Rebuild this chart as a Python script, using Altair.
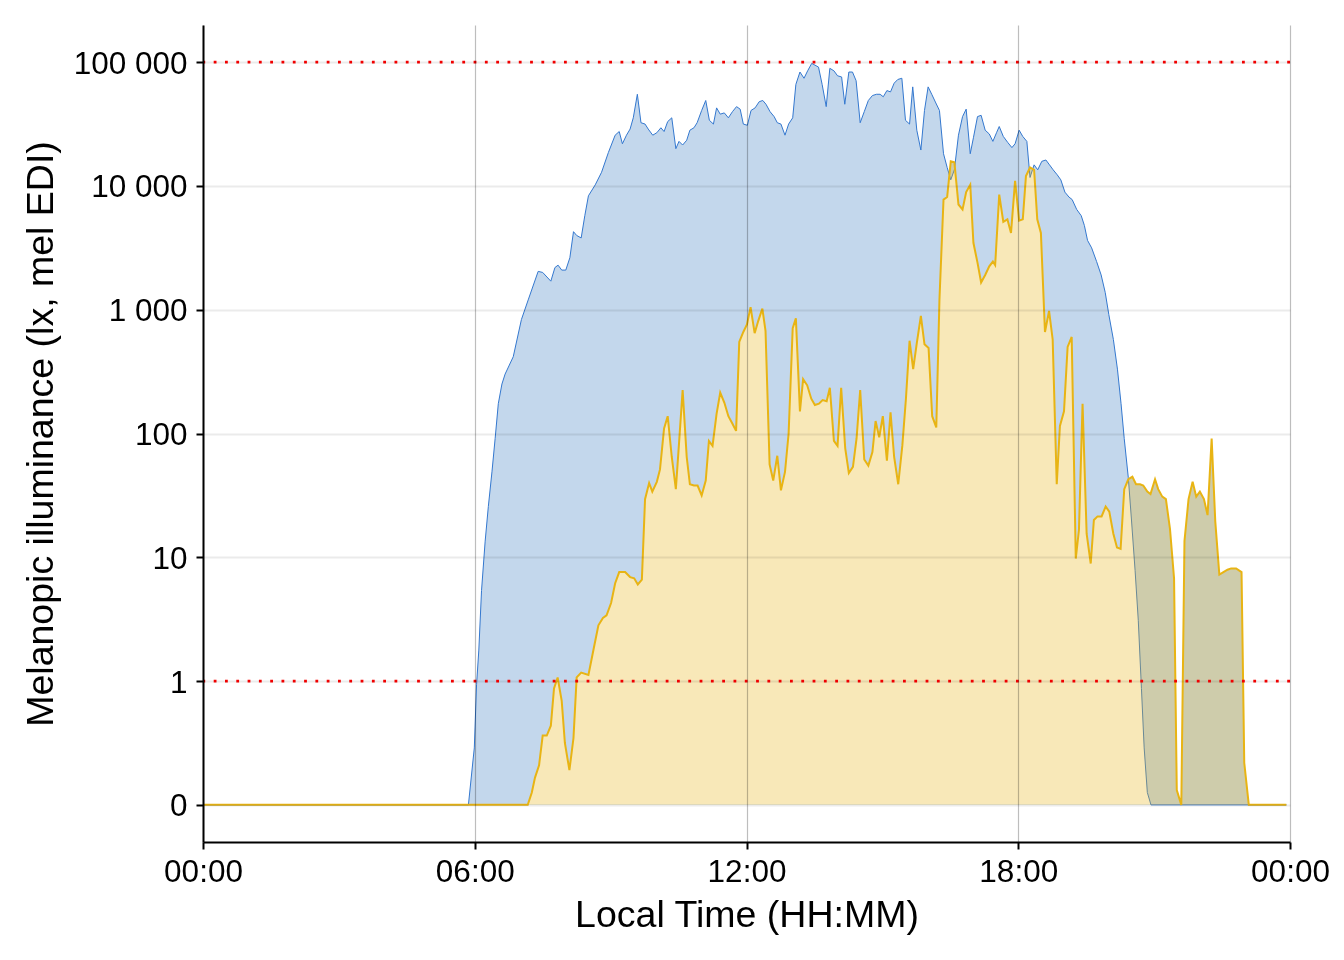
import json
import altair as alt
import pandas as pd

# ---- data ----
blue_hours = [
    0.0, 5.86, 5.99, 6.04, 6.09, 6.15, 6.23, 6.30, 6.38, 6.45,
    6.52, 6.60, 6.67, 6.85, 7.03, 7.18, 7.40, 7.50, 7.68, 7.77,
    7.84, 7.92, 8.01, 8.10, 8.18, 8.25, 8.35, 8.43, 8.51, 8.66,
    8.80, 8.95, 9.10, 9.19, 9.26, 9.35, 9.43, 9.50, 9.59, 9.67,
    9.76, 9.83, 9.93, 10.02, 10.11, 10.18, 10.26, 10.35, 10.44, 10.51,
    10.59, 10.68, 10.75, 10.84, 10.91, 11.01, 11.10, 11.18, 11.27, 11.34,
    11.42, 11.51, 11.60, 11.69, 11.78, 11.86, 11.93, 12.02, 12.10, 12.19,
    12.28, 12.36, 12.43, 12.52, 12.61, 12.68, 12.76, 12.85, 12.93, 13.02,
    13.09, 13.18, 13.27, 13.35, 13.44, 13.59, 13.67, 13.76, 13.84, 13.93,
    14.01, 14.10, 14.17, 14.26, 14.34, 14.42, 14.51, 14.60, 14.69, 14.78,
    14.87, 14.95, 15.02, 15.10, 15.18, 15.26, 15.34, 15.43, 15.51, 15.60,
    15.67, 15.76, 15.85, 15.93, 16.01, 16.09, 16.18, 16.26, 16.35, 16.43,
    16.51, 16.59, 16.68, 16.77, 16.85, 16.94, 17.01, 17.10, 17.18, 17.27,
    17.36, 17.44, 17.52, 17.58, 17.67, 17.77, 17.86, 17.93, 18.02, 18.10,
    18.19, 18.26, 18.35, 18.43, 18.52, 18.61, 18.69, 18.77, 18.86, 18.94,
    19.03, 19.12, 19.19, 19.29, 19.39, 19.46, 19.53, 19.62, 19.73, 19.83,
    19.92, 20.00, 20.10, 20.19, 20.27, 20.34, 20.43, 20.50, 20.58, 20.65,
    20.72, 20.78, 20.85, 20.93, 23.92,
]
blue_lux = [
    0, 0, 0.46, 0.97, 1.78, 5.4, 13.5, 25.7, 49, 91,
    174, 251, 302, 417, 832, 1200, 2040, 2000, 1700, 2190,
    2290, 2090, 2090, 2630, 4270, 3980, 3800, 5750, 8320, 10200,
    12900, 18600, 25700, 27500, 21900, 25700, 28800, 35500, 55000, 32400,
    31600, 28800, 25700, 26900, 29500, 27500, 33100, 35500, 20000, 22900,
    21400, 23400, 28200, 29500, 32400, 40700, 49000, 33900, 31600, 42700,
    38000, 38900, 35500, 39800, 43700, 41700, 31600, 30900, 40700, 42700,
    47900, 49000, 45700, 39800, 36300, 32400, 31600, 25700, 31600, 35500,
    66100, 83200, 74100, 85100, 97700, 91200, 66100, 43700, 89100, 85100,
    77600, 75900, 45700, 83200, 83200, 70800, 32400, 39800, 49000, 53700,
    55000, 55000, 52500, 58900, 57500, 67600, 72400, 74100, 33900, 31600,
    63100, 28200, 19500, 40700, 63100, 55000, 46800, 40700, 18200, 14100,
    11200, 13500, 25700, 36300, 41700, 18200, 24500, 36300, 37200, 28200,
    26300, 22900, 26900, 30200, 25100, 22400, 20400, 21900, 28200, 25100,
    22900, 11700, 14800, 13500, 15800, 16200, 14800, 13500, 12300, 11200,
    8910, 8130, 7760, 6460, 5750, 4790, 3630, 3160, 2450, 1910,
    1380, 912, 575, 331, 174, 91, 44, 20, 7.8, 3.1,
    0.94, 0.46, 0.1, 0, 0,
]
yellow_hours = [
    0.0, 7.17, 7.26, 7.33, 7.42, 7.50, 7.59, 7.68, 7.75, 7.83,
    7.92, 7.99, 8.09, 8.18, 8.25, 8.35, 8.51, 8.63, 8.73, 8.83,
    8.91, 9.01, 9.10, 9.19, 9.32, 9.43, 9.52, 9.60, 9.69, 9.76,
    9.85, 9.92, 10.02, 10.09, 10.18, 10.26, 10.35, 10.44, 10.51, 10.59,
    10.68, 10.75, 10.84, 10.92, 11.01, 11.10, 11.17, 11.25, 11.34, 11.42,
    11.51, 11.60, 11.69, 11.77, 11.84, 11.93, 12.01, 12.09, 12.18, 12.26,
    12.35, 12.42, 12.51, 12.59, 12.68, 12.76, 12.85, 12.93, 13.02, 13.09,
    13.18, 13.25, 13.34, 13.43, 13.51, 13.60, 13.68, 13.77, 13.84, 13.93,
    14.01, 14.09, 14.18, 14.26, 14.35, 14.43, 14.51, 14.60, 14.69, 14.78,
    14.85, 14.93, 15.01, 15.10, 15.18, 15.26, 15.35, 15.44, 15.52, 15.60,
    15.68, 15.76, 15.85, 15.93, 16.02, 16.10, 16.19, 16.26, 16.35, 16.43,
    16.51, 16.59, 16.68, 16.77, 16.85, 16.94, 17.01, 17.10, 17.18, 17.27,
    17.36, 17.44, 17.49, 17.58, 17.67, 17.76, 17.84, 17.93, 18.02, 18.10,
    18.17, 18.26, 18.35, 18.42, 18.50, 18.59, 18.68, 18.76, 18.85, 18.92,
    19.01, 19.09, 19.18, 19.27, 19.34, 19.42, 19.51, 19.60, 19.67, 19.75,
    19.84, 19.93, 20.01, 20.10, 20.18, 20.26, 20.34, 20.43, 20.52, 20.60,
    20.69, 20.76, 20.85, 20.92, 21.02, 21.09, 21.18, 21.26, 21.35, 21.44,
    21.50, 21.60, 21.67, 21.76, 21.85, 21.93, 22.01, 22.10, 22.18, 22.27,
    22.35, 22.44, 22.53, 22.62, 22.70, 22.81, 22.93, 22.99, 23.09, 23.92,
]
yellow_lux = [
    0, 0, 0.1, 0.22, 0.32, 0.56, 0.56, 0.64, 0.94, 1.07,
    0.84, 0.50, 0.28, 0.54, 1.07, 1.17, 1.12, 1.86, 2.82, 3.24,
    3.39, 4.27, 6.17, 7.59, 7.59, 6.92, 6.76, 6.03, 6.61, 29.5,
    39.8, 33.9, 40.7, 51.3, 110, 138, 64.6, 35.5, 83.2, 224,
    64.6, 38.9, 38.0, 38.0, 31.6, 41.7, 87.1, 79.4, 145, 214,
    178, 138, 120, 105, 550, 661, 759, 1050, 646, 813,
    1020, 676, 56.2, 41.7, 66.1, 34.7, 49.0, 100, 708, 851,
    151, 275, 245, 191, 170, 174, 186, 182, 234, 87.1,
    79.4, 234, 75.9, 47.9, 53.7, 91.2, 224, 61.7, 55.0, 70.8,
    126, 93.3, 138, 60.3, 148, 64.6, 38.9, 79.4, 191, 562,
    331, 537, 891, 525, 490, 138, 112, 1200, 7760, 8130,
    15800, 15500, 7080, 6460, 8910, 10200, 3470, 2400, 1660, 1910,
    2240, 2450, 2290, 8510, 5130, 5370, 4170, 11000, 5250, 5370,
    12000, 14100, 13500, 5370, 4170, 661, 977, 575, 38.9, 115,
    151, 501, 603, 9.77, 16.6, 174, 15.5, 8.91, 20.0, 21.4,
    21.4, 25.7, 23.4, 15.5, 12.0, 11.7, 35.5, 42.7, 44.7, 38.9,
    38.9, 38.0, 33.9, 32.4, 42.7, 35.5, 30.9, 29.5, 17.0, 6.76,
    0.12, 0, 13.5, 29.5, 40.7, 30.9, 33.9, 29.5, 21.9, 91.2,
    19.5, 7.24, 7.59, 7.94, 8.13, 8.13, 7.59, 0.34, 0, 0,
]
reference_lux = [1, 100000]

y_tick_values = [0, 1, 2, 3, 4, 5, 6]
y_tick_labels = ["0", "1", "10", "100", "1 000", "10 000", "100 000"]
x_tick_values = [0, 6, 12, 18, 24]
x_tick_labels = ["00:00", "06:00", "12:00", "18:00", "00:00"]

# ---- styling ----
FONT = "Liberation Sans"
BLUE_LINE = "#3478cf"
BLUE_RIBBON = "#c3d7ec"
YELLOW = "#e8b414"
SYMLOG = "datum.lux <= 1 ? datum.lux : 1 + log(datum.lux) / LN10"

blue_df = pd.DataFrame({"hour": blue_hours, "lux": blue_lux})
yellow_df = pd.DataFrame({"hour": yellow_hours, "lux": yellow_lux})
ref_df = pd.DataFrame({"lux": reference_lux})

x_enc = alt.X(
    "hour:Q",
    scale=alt.Scale(domain=[0, 24], nice=False, zero=False),
    axis=alt.Axis(
        values=x_tick_values,
        labelExpr=f"{json.dumps(x_tick_labels)}[datum.value / 6]",
        title="Local Time (HH:MM)",
        grid=True,
        gridColor="black",
        gridOpacity=0.26,
        gridWidth=1.2,
        labelFlush=False,
        labelPadding=7,
        titlePadding=9,
        zindex=1,
    ),
)
y_enc = alt.Y(
    "t:Q",
    scale=alt.Scale(domain=[-0.3, 6.3], nice=False, zero=False),
    axis=alt.Axis(
        values=y_tick_values,
        labelExpr=f"{json.dumps(y_tick_labels)}[datum.value]",
        title="Melanopic illuminance (lx, mel EDI)",
        grid=True,
        gridColor="black",
        gridOpacity=0.08,
        gridWidth=2,
        labelPadding=9,
        labelOffset=2,
        titlePadding=13,
        zindex=1,
    ),
)

blue_base = alt.Chart(blue_df).transform_calculate(t=SYMLOG)
yellow_base = alt.Chart(yellow_df).transform_calculate(t=SYMLOG)

# the blue band fills the space between the two series:
# invert both areas (difference with white) -> band is black, then tint it
blue_mask = blue_base.mark_area(color="white", blend="difference").encode(
    x=x_enc, y=y_enc, y2=alt.datum(0)
)
yellow_mask = yellow_base.mark_area(color="white", blend="difference").encode(
    x=x_enc, y=y_enc, y2=alt.datum(0)
)
tint = alt.Chart(pd.DataFrame({"k": [0]})).mark_rect(
    color=BLUE_RIBBON, blend="screen"
).encode(
    x=alt.datum(0), x2=alt.datum(24), y=alt.datum(-0.3), y2=alt.datum(6.3)
)
blue_line = blue_base.mark_line(color=BLUE_LINE, strokeWidth=1.0).encode(
    x=x_enc, y=y_enc
)
yellow_area = yellow_base.mark_area(color=YELLOW, opacity=0.3).encode(
    x=x_enc, y=y_enc, y2=alt.datum(0)
)
yellow_line = yellow_base.mark_line(color=YELLOW, strokeWidth=2.0).encode(
    x=x_enc, y=y_enc
)
ref_rules = (
    alt.Chart(ref_df)
    .transform_calculate(t=SYMLOG)
    .mark_rule(color="#ff0000", strokeDash=[2.8, 8.5], strokeWidth=2.7)
    .encode(y=y_enc)
)

chart = (
    alt.layer(
        blue_mask, yellow_mask, tint, blue_line, yellow_area, yellow_line, ref_rules
    )
    .properties(
        width=1087,
        height=817,
        autosize=alt.AutoSizeParams(type="none"),
        padding={"left": 195, "top": 17, "right": 46, "bottom": 110},
        background="white",
    )
    .configure_view(stroke=None)
    .configure_axis(
        domainColor="black",
        domainWidth=2,
        tickColor="black",
        tickWidth=2,
        tickSize=7,
        labelFont=FONT,
        labelFontSize=31.5,
        labelColor="black",
        titleFont=FONT,
        titleFontSize=37.5,
        titleFontWeight="normal",
        titleColor="black",
    )
)

chart.save("out.html", embed_options={"renderer": "svg", "actions": False})
